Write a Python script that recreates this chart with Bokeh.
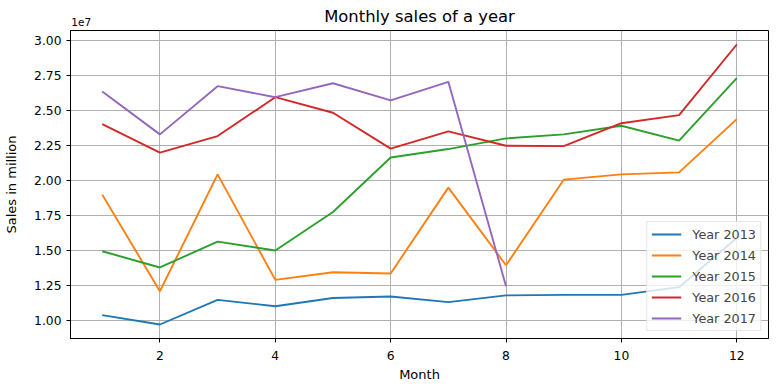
from bokeh.plotting import figure
from bokeh.models import (Range1d, FixedTicker, CustomJSTickFormatter, Legend,
                          LegendItem, LinearAxis, ColumnDataSource)
from bokeh.embed import file_html
from bokeh.resources import INLINE

months = list(range(1, 13))
months_2017 = list(range(1, 9))
sales_2013 = [10380000, 9710000, 11470000, 11020000, 11610000, 11710000,
              11310000, 11790000, 11830000, 11830000, 12380000, 15900000]
sales_2014 = [19000000, 12090000, 20450000, 12900000, 13450000, 13360000,
              19500000, 13950000, 20070000, 20450000, 20590000, 24400000]
sales_2015 = [14950000, 13790000, 15640000, 15000000, 17760000, 21660000,
              22260000, 23020000, 23310000, 23930000, 22860000, 27330000]
sales_2016 = [24040000, 22000000, 23190000, 25970000, 24860000, 22290000,
              23520000, 22500000, 22470000, 24110000, 24690000, 29740000]
sales_2017 = [26380000, 23310000, 26760000, 25970000, 26970000, 25740000,
              27070000, 12450000]
series_labels = ["Year 2013", "Year 2014", "Year 2015", "Year 2016", "Year 2017"]
colors = ["#1f77b4", "#ff7f0e", "#2ca02c", "#d62728", "#9467bd"]
x_ticks = [2, 4, 6, 8, 10, 12]
y_ticks = [10000000, 12500000, 15000000, 17500000, 20000000,
           22500000, 25000000, 27500000, 30000000]
title_text = "Monthly sales of a year"
offset_text = "1e7"

FONT = "DejaVu Sans"
W, H = 770, 385
BL, BR, BT, BB = 70, 2, 30, 47

all_vals = sales_2013 + sales_2014 + sales_2015 + sales_2016 + sales_2017
ymin, ymax = min(all_vals), max(all_vals)
ypad = 0.05 * (ymax - ymin)
xpad = 0.05 * (max(months) - min(months))
x_start, x_end = min(months) - xpad, max(months) + xpad

p = figure(width=W, height=H, output_backend="svg", toolbar_location=None,
           x_range=Range1d(x_start, x_end),
           y_range=Range1d(ymin - ypad, ymax + ypad),
           min_border_left=BL, min_border_right=BR, min_border_top=BT,
           min_border_bottom=BB)

p.outline_line_color = "black"
p.outline_line_width = 1
p.outline_line_alpha = 1

for ax in (p.xaxis[0], p.yaxis[0]):
    ax.major_label_text_font = FONT
    ax.major_label_text_font_size = "12.3px"
    ax.major_label_text_color = "black"
    ax.axis_label_text_font = FONT
    ax.axis_label_text_font_size = "13px"
    ax.axis_label_text_font_style = "normal"
    ax.axis_label_text_color = "black"
    ax.axis_line_color = "black"
    ax.major_tick_line_color = "black"
    ax.major_tick_out = 4
    ax.major_tick_in = 0
    ax.minor_tick_line_color = None

p.xaxis.major_label_standoff = 8
p.yaxis.major_label_standoff = 5
p.xaxis.axis_label = "Month"
p.yaxis.axis_label = "Sales in million"
p.xaxis.axis_label_standoff = 4
p.yaxis.axis_label_standoff = 12
p.xaxis.ticker = FixedTicker(ticks=x_ticks)
p.yaxis.ticker = FixedTicker(ticks=y_ticks)
p.yaxis.formatter = CustomJSTickFormatter(code="return (tick/1e7).toFixed(2);")

p.grid.grid_line_color = "#b0b0b0"
p.grid.grid_line_width = 1
p.xgrid.ticker = FixedTicker(ticks=x_ticks)
p.ygrid.ticker = FixedTicker(ticks=y_ticks)

# top axis carries the title (as its label) and the "1e7" offset text
offset_pos = x_start + 0.185
top_axis = LinearAxis(ticker=FixedTicker(ticks=[offset_pos]),
                      formatter=CustomJSTickFormatter(
                          code="return '%s';" % offset_text),
                      axis_line_color=None, major_tick_line_color=None,
                      minor_tick_line_color=None, major_tick_out=0,
                      major_tick_in=0, major_label_standoff=5,
                      major_label_text_font=FONT,
                      major_label_text_font_size="10.5px",
                      major_label_text_color="black",
                      axis_label=title_text, axis_label_standoff=-11,
                      axis_label_text_font=FONT,
                      axis_label_text_font_size="16.4px",
                      axis_label_text_font_style="normal",
                      axis_label_text_color="black")
p.add_layout(top_axis, "above")

series = [(months, sales_2013), (months, sales_2014), (months, sales_2015),
          (months, sales_2016), (months_2017, sales_2017)]
items = []
for (xs, ys), lab, col in zip(series, series_labels, colors):
    src = ColumnDataSource(dict(x=xs, y=ys))
    r = p.line("x", "y", source=src, line_color=col, line_width=1.9)
    items.append(LegendItem(label=lab, renderers=[r]))

legend = Legend(items=items, location="bottom_right")
legend.label_text_font = FONT
legend.label_text_font_size = "12.8px"
legend.glyph_width = 30
legend.glyph_height = 16
legend.label_height = 16
legend.label_standoff = 11
legend.spacing = 5
legend.padding = 4
legend.margin = 7
legend.border_line_color = "#cccccc"
legend.border_line_width = 1
legend.background_fill_alpha = 0.8
p.add_layout(legend)

open("out.html", "w").write(file_html(p, INLINE))
